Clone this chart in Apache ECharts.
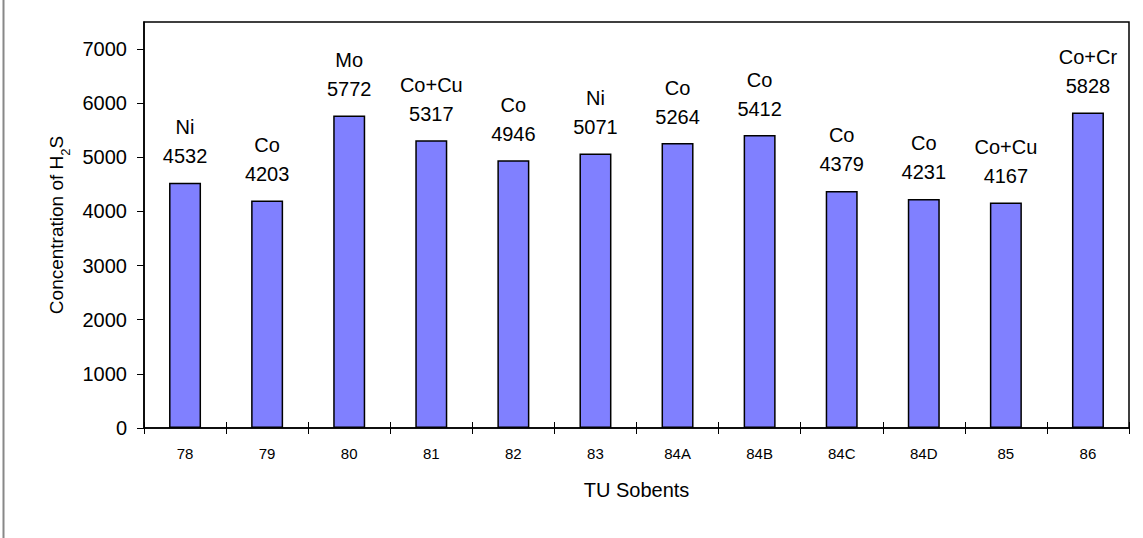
<!DOCTYPE html>
<html>
<head>
<meta charset="utf-8">
<script src="https://cdn.jsdelivr.net/npm/echarts@6/dist/echarts.min.js"></script>
<style>
  html, body { margin: 0; padding: 0; background: #fff; }
  #chart { width: 1143px; height: 538px; }
</style>
</head>
<body>
<div id="chart"></div>
<script>
const sorbents = ['78', '79', '80', '81', '82', '83', '84A', '84B', '84C', '84D', '85', '86'];
const metals = ['Ni', 'Co', 'Mo', 'Co+Cu', 'Co', 'Ni', 'Co', 'Co', 'Co', 'Co', 'Co+Cu', 'Co+Cr'];
const h2sConcentration = [4532, 4203, 5772, 5317, 4946, 5071, 5264, 5412, 4379, 4231, 4167, 5828];

const font = 'Liberation Sans';
const chart = echarts.init(document.getElementById('chart'), null, { renderer: 'svg' });

const option = {
  animation: false,
  graphic: [
    {
      type: 'line',
      shape: { x1: 3.5, y1: 0, x2: 3.5, y2: 538 },
      style: { stroke: '#888', lineWidth: 2 }
    }
  ],
  grid: {
    left: 144,
    top: 22,
    right: 14,
    bottom: 110,
    show: true,
    borderColor: '#000',
    borderWidth: 1.5,
    backgroundColor: 'transparent'
  },
  xAxis: [
    {
      type: 'category',
      data: sorbents,
      name: 'TU Sobents',
      nameLocation: 'middle',
      nameGap: 52,
      nameTextStyle: { fontFamily: font, fontSize: 20, color: '#000' },
      axisLine: { lineStyle: { color: '#000', width: 1.5 } },
      axisTick: { show: true, length: 6, lineStyle: { color: '#000' } },
      axisLabel: { fontFamily: font, fontSize: 15, color: '#000', margin: 18 },
      splitLine: { show: false }
    },
    {
      type: 'category',
      data: sorbents,
      position: 'bottom',
      axisLine: { show: false },
      axisTick: { show: true, inside: true, length: 6, lineStyle: { color: '#000' } },
      axisLabel: { show: false },
      splitLine: { show: false }
    }
  ],
  yAxis: {
    type: 'value',
    min: 0,
    max: 7500,
    interval: 1000,
    name: 'Concentration of H{sub|2}S',
    nameLocation: 'middle',
    nameGap: 78,
    nameRotate: 90,
    nameTextStyle: {
      fontFamily: font,
      fontSize: 19,
      color: '#000',
      rich: {
        sub: { fontFamily: font, fontSize: 13, color: '#000', verticalAlign: 'bottom', padding: [0, 0, -6, 0] }
      }
    },
    axisLine: { show: true, lineStyle: { color: '#000', width: 1.5 } },
    axisTick: { show: true, length: 7, lineStyle: { color: '#000' } },
    axisLabel: {
      fontFamily: font,
      fontSize: 20,
      color: '#000',
      margin: 17,
      showMaxLabel: false,
      formatter: (v) => String(v)
    },
    splitLine: { show: false }
  },
  series: [
    {
      type: 'bar',
      data: h2sConcentration,
      barWidth: 32,
      itemStyle: { color: '#8080FF', borderColor: '#000', borderWidth: 1.5 },
      label: {
        show: true,
        position: 'top',
        distance: 12,
        fontFamily: font,
        fontSize: 20,
        color: '#000',
        lineHeight: 29,
        formatter: (p) => metals[p.dataIndex] + '\n' + p.value
      }
    }
  ]
};

chart.setOption(option);
</script>
</body>
</html>
